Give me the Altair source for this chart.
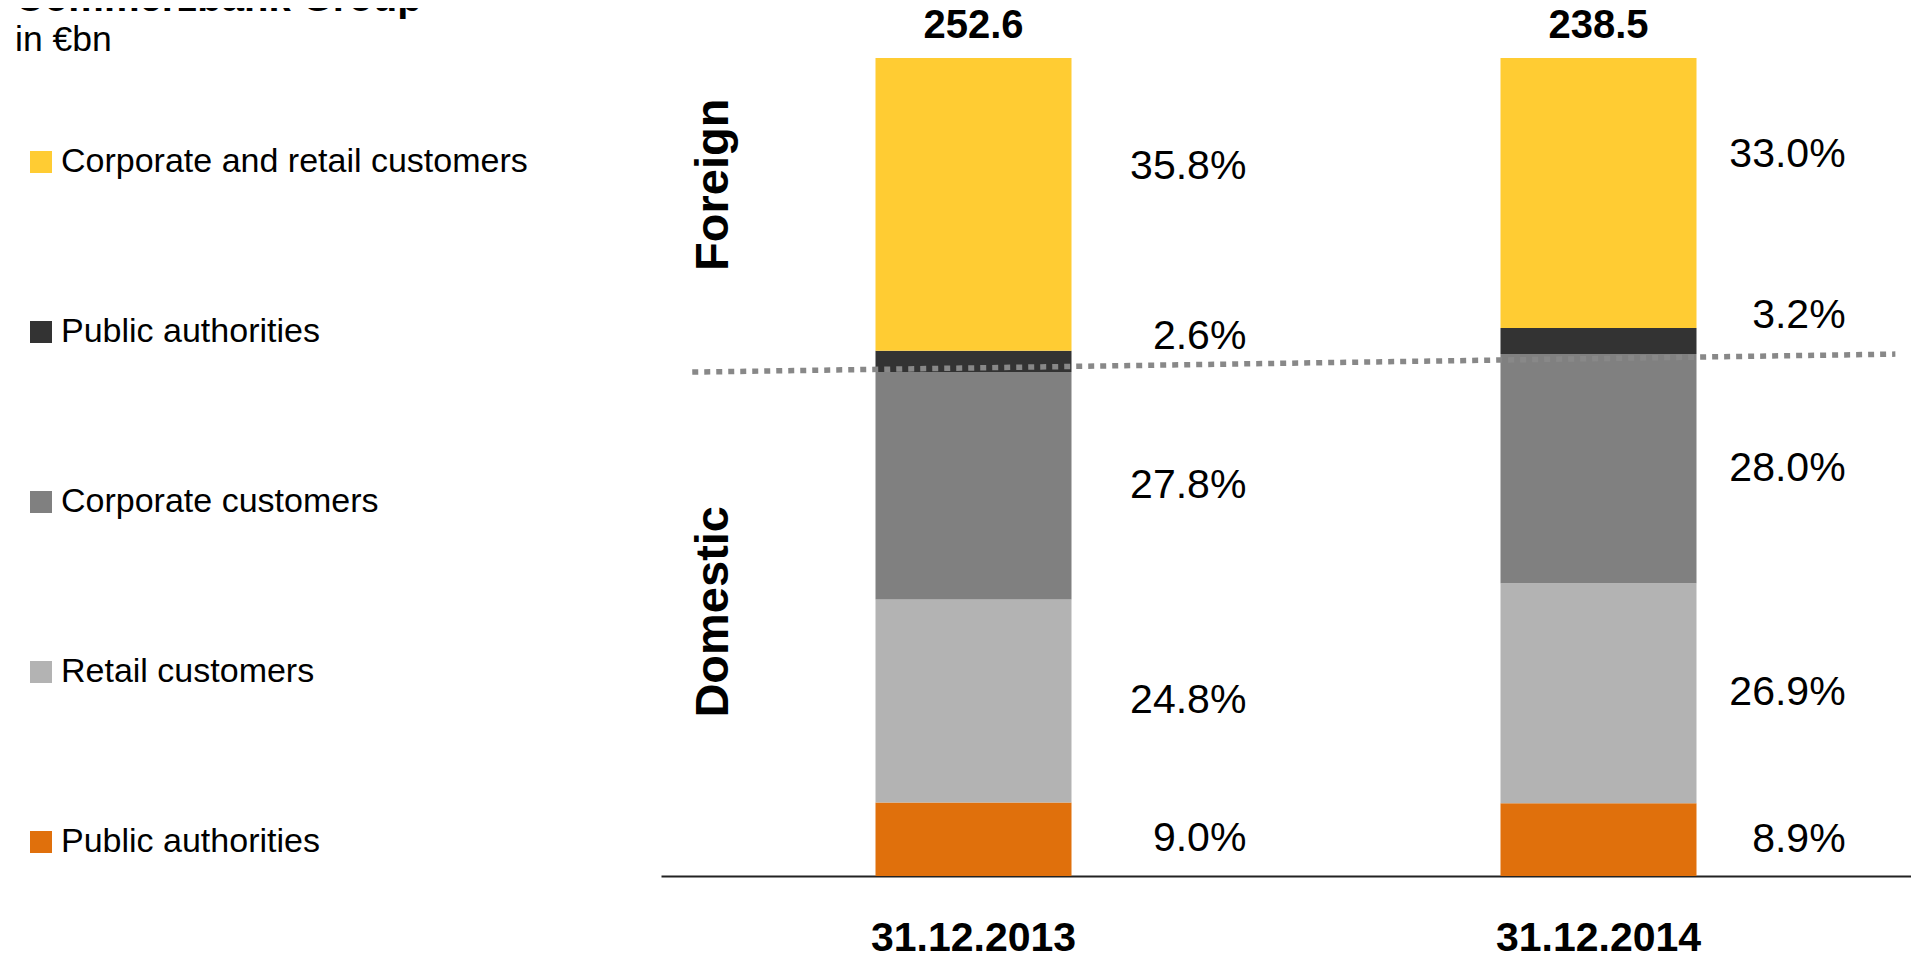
import altair as alt
import pandas as pd

FONT = "Liberation Sans"

# ---------------- data ----------------
dates = ["31.12.2013", "31.12.2014"]
totals = [252.6, 238.5]
segments = [
    "Corporate and retail customers (foreign)",
    "Public authorities (foreign)",
    "Corporate customers (domestic)",
    "Retail customers (domestic)",
    "Public authorities (domestic)",
]
regions = ["Foreign", "Foreign", "Domestic", "Domestic", "Domestic"]
shares_2013 = [35.8, 2.6, 27.8, 24.8, 9.0]
shares_2014 = [33.0, 3.2, 28.0, 26.9, 8.9]
colors = ["#FFCC33", "#333333", "#808080", "#B3B3B3", "#E0700C"]

# ---------------- layout / style constants ----------------
LABEL_SHIFT = {0: 4.6, 1: 3.0}          # lift labels of the two top segments (in % units)
REGION_LABEL_Y = {"Foreign": 84.5, "Domestic": 32.3}
LINE_EXTENT = (0.05, 1.975)             # dotted separator, in band units of [0, 2]

# ---------------- build tables ----------------
rows = []
for d, shares in zip(dates, [shares_2013, shares_2014]):
    cum = 0.0
    for i in reversed(range(len(segments))):
        y0 = cum
        y1 = cum + shares[i]
        cum = y1
        rows.append({
            "date": d,
            "segment": segments[i],
            "share": shares[i],
            "y0": y0,
            "y1": y1,
            "ly": (y0 + y1) / 2 + LABEL_SHIFT.get(i, 0.0),
            "label": f"{shares[i]:.1f}%",
        })
df = pd.DataFrame(rows)
tot_df = pd.DataFrame({"date": dates, "total": totals})

domestic = [sum(s for s, r in zip(sh, regions) if r == "Domestic") for sh in [shares_2013, shares_2014]]
line_df = pd.DataFrame({"lx": list(LINE_EXTENT), "dom": domestic})

yscale = alt.Scale(domain=[0, 100], nice=False, zero=True)

bars = alt.Chart(df).mark_bar(size=196).encode(
    x=alt.X("date:N", sort=dates, title=None,
            axis=alt.Axis(labelFont=FONT, labelFontSize=41, labelFontWeight="bold",
                          labelColor="black", labelPadding=74, labelBaseline="alphabetic",
                          labelAngle=0, labelLimit=0, ticks=False, domainColor="#222222",
                          domainWidth=2, grid=False)),
    y=alt.Y("y0:Q", scale=yscale, axis=None),
    y2="y1:Q",
    color=alt.Color("segment:N", scale=alt.Scale(domain=segments, range=colors),
                    legend=alt.Legend(orient="none", legendX=-637, legendY=87, title=None,
                                      symbolType="square", symbolSize=484, symbolStrokeWidth=0,
                                      symbolOpacity=1, labelFont=FONT, labelFontSize=34,
                                      labelColor="black", rowPadding=136, labelOffset=3,
                                      labelLimit=0, padding=0,
                                      labelExpr="split(datum.label, ' (')[0]")),
)

sep = alt.Chart(line_df).mark_line(strokeDash=[6, 6], strokeWidth=5.5, color="#888888",
                                   strokeCap="butt").encode(
    x=alt.X("lx:Q", scale=alt.Scale(domain=[0, 2], nice=False, zero=False), axis=None),
    y=alt.Y("dom:Q", scale=yscale, axis=None),
)

pct = alt.Chart(df).mark_text(font=FONT, fontSize=41, align="right", baseline="middle",
                              dx=260, color="black").encode(
    x=alt.X("date:N", sort=dates, axis=None,
            scale=alt.Scale(type="point", padding=0.543)),
    y=alt.Y("ly:Q", scale=yscale, axis=None),
    text="label:N",
)

tots = alt.Chart(tot_df).mark_text(font=FONT, fontSize=40, fontWeight="bold",
                                   baseline="alphabetic", dy=-20, color="black").encode(
    x=alt.X("date:N", sort=dates, axis=None),
    y=alt.datum(100),
    text=alt.Text("total:Q", format=".1f"),
)

region_layers = []
for name, yv in REGION_LABEL_Y.items():
    region_layers.append(
        alt.Chart(pd.DataFrame({"region": [name]})).mark_text(
            font=FONT, fontSize=47, fontWeight="bold", angle=270,
            align="center", baseline="middle", color="black").encode(
            x=alt.value(53), y=alt.datum(yv), text="region:N")
    )

title = alt.Chart(pd.DataFrame({"t": ["Commerzbank Group"]})).mark_text(
    font=FONT, fontSize=40, fontWeight="bold", align="left", baseline="alphabetic",
    color="black").encode(x=alt.value(-646), y=alt.value(-47), text="t:N")
subtitle = alt.Chart(pd.DataFrame({"t": ["in €bn"]})).mark_text(
    font=FONT, fontSize=35.5, align="left", baseline="alphabetic",
    color="black").encode(x=alt.value(-646), y=alt.value(-7), text="t:N")

chart = alt.layer(bars, sep, pct, tots, *region_layers, title, subtitle).resolve_scale(
    x="independent"
).properties(
    width=1250, height=818,
    autosize=alt.AutoSizeParams(type="none"),
    padding={"left": 653, "top": 50, "right": 0, "bottom": 77},
    background="white",
).configure_view(stroke=None)

chart.save("out.html", embed_options={"renderer": "svg", "actions": False})
